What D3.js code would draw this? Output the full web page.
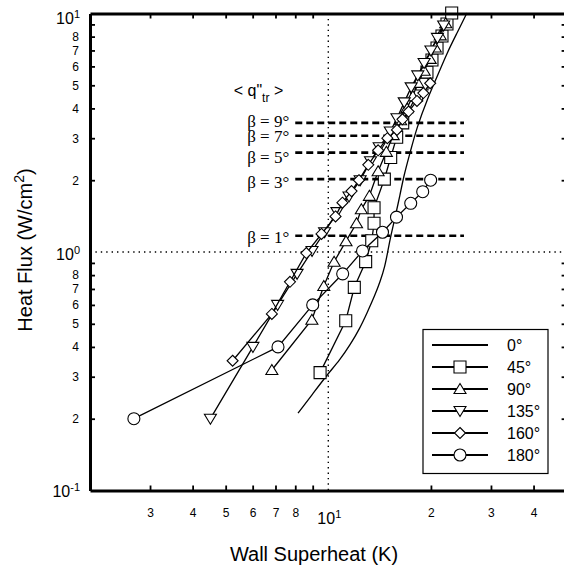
<!DOCTYPE html>
<html>
<head>
<meta charset="utf-8">
<script src="https://cdn.jsdelivr.net/npm/d3@7"></script>
<style>
  body { margin: 0; background: #fff; }
  svg { display: block; font-family: "Liberation Sans", Arial, sans-serif; }
</style>
</head>
<body>
<svg id="chart" width="564" height="568"></svg>
<script>
// ---- data ----
var angles = ["0°", "45°", "90°", "135°", "160°", "180°"];
var symbols = ["none", "square", "triangle-up", "triangle-down", "diamond", "circle"];

var x0 = [8.15, 8.96, 9.91, 10.82, 11.58, 12.39, 12.99, 13.71, 14.18, 14.67, 14.97, 15.27, 15.69, 16.23, 16.67, 17.36, 18.2, 19.47, 20.84, 22.29, 23.85, 25.51];
var y0 = [0.211, 0.252, 0.305, 0.353, 0.407, 0.48, 0.555, 0.66, 0.748, 0.873, 1.02, 1.178, 1.389, 1.734, 2.1, 2.6, 3.34, 4.34, 5.42, 6.83, 8.28, 10.05];

var x45 = [9.46, 11.25, 11.92, 12.87, 13.41, 13.62, 13.62, 14.6, 15.24, 15.87, 16.53, 18.16, 18.83, 19.47, 20.14, 20.84, 21.55, 22.29, 23.01];
var y45 = [0.312, 0.515, 0.711, 0.911, 1.115, 1.319, 1.533, 2.02, 2.49, 3.03, 3.48, 4.55, 5.06, 5.68, 6.38, 7.17, 8.05, 9.04, 10.05];

var x90 = [6.83, 8.95, 9.7, 10.4, 11.27, 12.1, 12.5, 13.2, 14.0, 14.8, 15.5, 16.3, 17.0, 17.7, 18.3, 19.1, 19.9, 20.6, 21.3, 22.1];
var y90 = [0.32, 0.52, 0.72, 0.91, 1.11, 1.32, 1.51, 1.72, 2.18, 2.63, 3.09, 3.57, 4.01, 4.5, 5.12, 5.75, 6.45, 7.2, 8.1, 9.1];

var x135 = [4.51, 6.01, 7.1, 8.1, 8.96, 9.75, 10.6, 11.5, 12.4, 13.3, 14.1, 15.2, 15.9, 16.7, 17.5, 18.3, 19.1, 20.0, 20.9, 21.8];
var y135 = [0.20, 0.40, 0.60, 0.81, 1.01, 1.21, 1.47, 1.71, 2.0, 2.4, 2.75, 3.2, 3.64, 4.24, 4.9, 5.5, 6.2, 7.0, 7.9, 8.9];

var x160 = [5.24, 6.83, 7.72, 8.62, 9.55, 10.5, 11.0, 11.7, 12.3, 13.1, 14.0, 14.9, 15.9, 16.5, 17.2, 18.2, 19.0, 19.9];
var y160 = [0.35, 0.55, 0.75, 0.99, 1.19, 1.41, 1.61, 1.80, 2.0, 2.32, 2.67, 3.0, 3.25, 3.6, 3.88, 4.3, 4.64, 5.1];

var x180 = [2.69, 7.12, 9.0, 11.02, 12.6, 14.42, 15.85, 17.45, 18.92, 19.96];
var y180 = [0.20, 0.40, 0.60, 0.81, 1.01, 1.21, 1.40, 1.60, 1.79, 2.0];

var betaLabels = ["β = 9°", "β = 7°", "β = 5°", "β = 3°", "β = 1°"];
var betaFlux = [3.48, 3.07, 2.61, 2.02, 1.17];
var betaRange = [8, 25];

var xMinorTicks = [3, 4, 5, 6, 7, 8, 9, 20, 30, 40];
var yMinorTicks = [0.2, 0.3, 0.4, 0.5, 0.6, 0.7, 0.8, 0.9, 2, 3, 4, 5, 6, 7, 8, 9];

var xs = [x0, x45, x90, x135, x160, x180];
var ys = [y0, y45, y90, y135, y160, y180];
var series = angles.map(function(a, i) {
    return {name: a, sym: symbols[i], pts: xs[i].map(function(v, j) { return [v, ys[i][j]]; })};
});

// ---- layout ----
var svg = d3.select("#chart");
var pL = 90, pR = 566.6, pT = 13.5, pB = 490.5;
var betaNudge = [-1, 1, 5, 3, 1.5]; // labels sit a bit off their lines in the original

var x = d3.scaleLog().domain([2, 50]).range([pL, pR]);
var y = d3.scaleLog().domain([0.1, 10]).range([pB, pT]);

function markerPath(sym) {
    if (sym == "square") return "M-6,-6H6V6H-6Z";
    if (sym == "triangle-up") return "M0,-5.5L6,4.5H-6Z";
    if (sym == "triangle-down") return "M0,5.5L6,-4.5H-6Z";
    if (sym == "diamond") return "M0,-5.5L5.5,0L0,5.5L-5.5,0Z";
    if (sym == "circle") return "M6,0A6,6 0 1,1 -6,0A6,6 0 1,1 6,0Z";
    return null;
}

// dotted reference lines at 10 K and 1 W/cm2
svg.append("line")
    .attr("x1", x(10)).attr("x2", x(10))
    .attr("y1", pT).attr("y2", pB)
    .attr("stroke", "#000").attr("stroke-width", 1.4)
    .attr("stroke-dasharray", "1.4,4");
svg.append("line")
    .attr("x1", pL).attr("x2", pR)
    .attr("y1", y(1)).attr("y2", y(1))
    .attr("stroke", "#000").attr("stroke-width", 1.4)
    .attr("stroke-dasharray", "1.4,4");

// beta dashed lines + labels
var g = svg.append("g");
betaFlux.forEach(function(q, i) {
    g.append("line")
        .attr("x1", x(betaRange[0])).attr("x2", x(betaRange[1]))
        .attr("y1", y(q)).attr("y2", y(q))
        .attr("stroke", "#000").attr("stroke-width", 2.6)
        .attr("stroke-dasharray", "7,4");
    g.append("text")
        .attr("x", x(betaRange[0]) - 6)
        .attr("y", y(q) + betaNudge[i])
        .attr("dy", "0.33em")
        .attr("text-anchor", "end")
        .style("font-family", "'Liberation Serif', 'Times New Roman', serif")
        .style("font-size", "17px")
        .text(betaLabels[i]);
});
var qt = g.append("text")
    .attr("x", x(betaRange[0]) - 12)
    .attr("y", y(betaFlux[0]) - 27)
    .attr("text-anchor", "end")
    .style("font-size", "16px");
qt.append("tspan").text("< q\"");
qt.append("tspan").attr("dy", 6).style("font-size", "12px").text("tr");
qt.append("tspan").attr("dy", -6).text(" >");

// data series
var line = d3.line().x(function(d) { return x(d[0]); }).y(function(d) { return y(d[1]); });
var smooth = d3.line().curve(d3.curveBasis).x(function(d) { return x(d[0]); }).y(function(d) { return y(d[1]); });

series.forEach(function(s) {
    var sg = svg.append("g");
    sg.append("path")
        .attr("d", s.sym == "none" ? smooth(s.pts) : line(s.pts))
        .attr("fill", "none")
        .attr("stroke", "#000")
        .attr("stroke-width", 1.3);
    if (s.sym != "none") {
        sg.selectAll("path.mk")
            .data(s.pts)
            .enter().append("path")
            .attr("class", "mk")
            .attr("d", markerPath(s.sym))
            .attr("transform", function(d) { return "translate(" + x(d[0]) + "," + y(d[1]) + ")"; })
            .attr("fill", "#fff")
            .attr("stroke", "#000")
            .attr("stroke-width", 1.1);
    }
});

// axes
function styleAxis(ax) {
    ax.select(".domain").attr("stroke-width", 3);
    ax.selectAll(".tick line").attr("stroke-width", 1.8);
}

function xFmt(d) { return (d == 9) ? "" : String(d < 10 ? d : d / 10); }
function yFmt(d) {
    if (d == 0.9 || d == 9) return "";
    return String(d < 1 ? Math.round(d * 10) : d);
}

var xb = svg.append("g")
    .attr("transform", "translate(0," + pB + ")")
    .call(d3.axisBottom(x).tickValues(xMinorTicks).tickSize(-5).tickSizeOuter(0).tickPadding(18).tickFormat(xFmt));
xb.selectAll("text").style("font-size", "12px");
styleAxis(xb);

var xt = svg.append("g")
    .attr("transform", "translate(0," + pT + ")")
    .call(d3.axisTop(x).tickValues(xMinorTicks).tickSize(-5).tickSizeOuter(0).tickFormat(""));
styleAxis(xt);

var yl = svg.append("g")
    .attr("transform", "translate(" + pL + ",0)")
    .call(d3.axisLeft(y).tickValues(yMinorTicks).tickSize(-5).tickSizeOuter(0).tickPadding(11).tickFormat(yFmt));
yl.selectAll("text").style("font-size", "12px");
styleAxis(yl);

var yr = svg.append("g")
    .attr("transform", "translate(" + pR + ",0)")
    .call(d3.axisRight(y).tickValues(yMinorTicks).tickSize(-5).tickSizeOuter(0).tickFormat(""));
styleAxis(yr);

// power-of-ten labels
function powLabel(px, py, exp, anchor) {
    var t = svg.append("text")
        .attr("x", px).attr("y", py)
        .attr("text-anchor", anchor)
        .style("font-size", "16px");
    t.append("tspan").text("10");
    t.append("tspan").attr("dy", -6).style("font-size", "11px").text(exp);
}
powLabel(x(10) + 1, pB + 33, "1", "middle");
powLabel(pL - 10, y(10) + 10, "1", "end");
powLabel(pL - 10, y(1) + 8, "0", "end");
powLabel(pL - 10, y(0.1) + 6, "-1", "end");

// axis titles
svg.append("text")
    .attr("x", 314)
    .attr("y", 561)
    .attr("text-anchor", "middle")
    .style("font-size", "20px")
    .text("Wall Superheat (K)");

var yt = svg.append("text")
    .attr("transform", "translate(32," + 250 + ") rotate(-90)")
    .attr("text-anchor", "middle")
    .style("font-size", "20px");
yt.append("tspan").text("Heat Flux (W/cm");
yt.append("tspan").attr("dy", -8).style("font-size", "14px").text("2");
yt.append("tspan").attr("dy", 8).text(")");

// legend
var lg = svg.append("g");
lg.append("rect")
    .attr("x", 423).attr("y", 329.5)
    .attr("width", 125).attr("height", 144)
    .attr("fill", "#fff").attr("stroke", "#000").attr("stroke-width", 1.2);
series.forEach(function(s, i) {
    var ly = 345 + i * 22;
    lg.append("line")
        .attr("x1", 432).attr("x2", 488)
        .attr("y1", ly).attr("y2", ly)
        .attr("stroke", "#000").attr("stroke-width", 2);
    if (s.sym != "none") {
        lg.append("path")
            .attr("d", markerPath(s.sym))
            .attr("transform", "translate(460," + ly + ")")
            .attr("fill", "#fff").attr("stroke", "#000").attr("stroke-width", 1.1);
    }
    lg.append("text")
        .attr("x", 507).attr("y", ly)
        .attr("dy", "0.35em")
        .style("font-size", "16px")
        .text(s.name);
});
</script>
</body>
</html>
